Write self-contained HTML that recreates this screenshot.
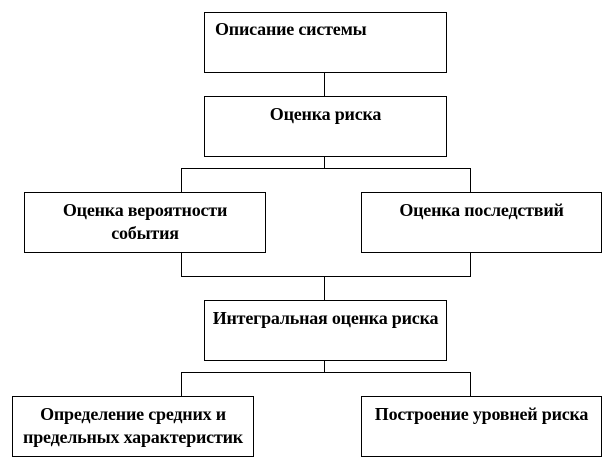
<!DOCTYPE html>
<html><head><meta charset="utf-8"><style>
body{margin:0;width:603px;height:468px;background:#fff;position:relative;overflow:hidden;font-family:"Liberation Serif","DejaVu Serif",serif;}
.b{position:absolute;border:1px solid #000;box-sizing:border-box;height:61px;font-weight:bold;font-size:18px;line-height:23px;text-align:center;padding-top:6px;letter-spacing:-0.2px;white-space:nowrap}
.l{position:absolute;background:#000}
</style></head><body>
<div class="b" style="left:204px;top:12px;width:243px;text-align:left;padding-left:10px;padding-top:5px">Описание системы</div>
<div class="b" style="left:204px;top:96px;width:243px">Оценка риска</div>
<div class="b" style="left:24px;top:192px;width:242px">Оценка вероятности<br>события</div>
<div class="b" style="left:361px;top:192px;width:241px">Оценка последствий</div>
<div class="b" style="left:204px;top:300px;width:243px">Интегральная оценка риска</div>
<div class="b" style="left:12px;top:396px;width:242px">Определение средних и<br>предельных характеристик</div>
<div class="b" style="left:361px;top:396px;width:241px">Построение уровней риска</div>
<div class="l" style="left:324px;top:72px;width:1px;height:24px"></div>
<div class="l" style="left:324px;top:156px;width:1px;height:12px"></div>
<div class="l" style="left:181px;top:168px;width:290px;height:1px"></div>
<div class="l" style="left:181px;top:168px;width:1px;height:24px"></div>
<div class="l" style="left:470px;top:168px;width:1px;height:24px"></div>
<div class="l" style="left:181px;top:252px;width:1px;height:24px"></div>
<div class="l" style="left:470px;top:252px;width:1px;height:24px"></div>
<div class="l" style="left:181px;top:276px;width:290px;height:1px"></div>
<div class="l" style="left:324px;top:276px;width:1px;height:24px"></div>
<div class="l" style="left:324px;top:360px;width:1px;height:12px"></div>
<div class="l" style="left:181px;top:372px;width:290px;height:1px"></div>
<div class="l" style="left:181px;top:372px;width:1px;height:24px"></div>
<div class="l" style="left:470px;top:372px;width:1px;height:24px"></div>
</body></html>
